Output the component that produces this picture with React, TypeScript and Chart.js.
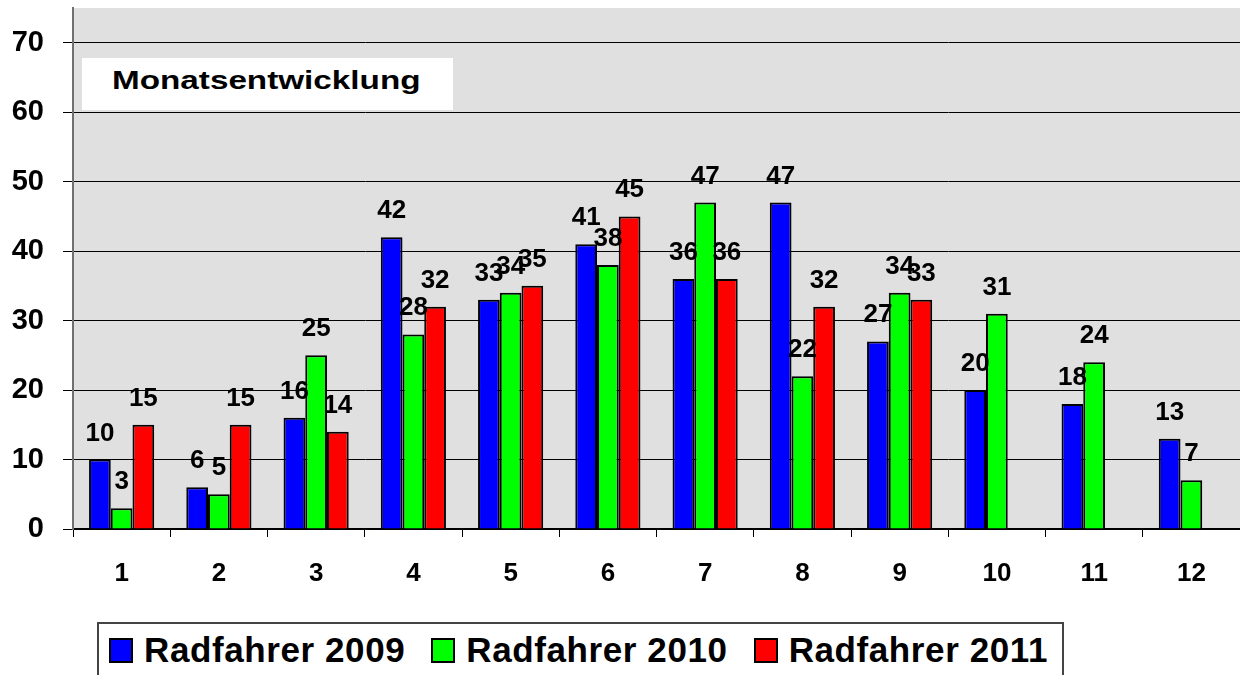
import React, { useEffect, useRef } from "react";
import { Chart, registerables } from "chart.js";

Chart.register(...registerables);

const months = ["1", "2", "3", "4", "5", "6", "7", "8", "9", "10", "11", "12"];
const radfahrer2009 = [10, 6, 16, 42, 33, 41, 36, 47, 27, 20, 18, 13];
const radfahrer2010 = [3, 5, 25, 28, 34, 38, 47, 22, 34, 31, 24, 7];
const radfahrer2011 = [15, 15, 14, 32, 35, 45, 36, 32, 33, null, null, null];
const seriesLabels = ["Radfahrer 2009", "Radfahrer 2010", "Radfahrer 2011"];
const seriesColors = ["#0000FF", "#00FF00", "#FF0000"];
const chartTitle = "Monatsentwicklung";
const yMax = 75;
const yStep = 10;
const yLastTick = 70;

const FONT = '"Liberation Sans", Arial, Helvetica, sans-serif';

const bgPlugin = {
  id: "plotBg",
  beforeDraw(chart: any) {
    const { ctx, chartArea } = chart;
    ctx.save();
    ctx.fillStyle = "#E0E0E0";
    ctx.fillRect(chartArea.left, chartArea.top, chartArea.right - chartArea.left, chartArea.bottom - chartArea.top);
    ctx.restore();
  },
};

const labelPlugin = {
  id: "valueLabels",
  afterDatasetsDraw(chart: any) {
    const ctx = chart.ctx;
    ctx.save();
    ctx.font = `bold 26px ${FONT}`;
    ctx.fillStyle = "#000";
    ctx.textAlign = "center";
    ctx.textBaseline = "alphabetic";
    chart.data.datasets.forEach((ds: any, i: number) => {
      const meta = chart.getDatasetMeta(i);
      meta.data.forEach((el: any, j: number) => {
        const v = ds.data[j];
        if (v === null || v === undefined) return;
        ctx.fillText(String(v), el.x, el.y - 19);
      });
    });
    ctx.restore();
  },
};

export default function App() {
  const canvasRef = useRef<HTMLCanvasElement | null>(null);

  useEffect(() => {
    if (!canvasRef.current) return;
    const seriesData = [radfahrer2009, radfahrer2010, radfahrer2011];
    const chart = new Chart(canvasRef.current, {
      type: "bar",
      data: {
        labels: months,
        datasets: seriesLabels.map((label, i) => ({
          label,
          data: seriesData[i] as any,
          backgroundColor: seriesColors[i],
          borderColor: "#000",
          borderWidth: 2,
          categoryPercentage: 0.67,
          barPercentage: 1,
        })),
      },
      options: {
        responsive: false,
        animation: false,
        devicePixelRatio: 1,
        layout: { padding: { top: 8, left: 0, right: 0, bottom: 0 } },
        plugins: {
          legend: { display: false },
          title: { display: false },
          tooltip: { enabled: false },
        },
        scales: {
          x: {
            offset: true,
            grid: {
              offset: true,
              drawOnChartArea: false,
              drawTicks: true,
              tickLength: 8,
              color: "#000",
              lineWidth: 1,
            },
            border: { display: true, color: "#000", width: 1.5 },
            ticks: {
              color: "#000",
              font: { family: FONT, size: 26, weight: "bold" },
              padding: 21,
              maxRotation: 0,
            },
            afterFit(scale: any) {
              scale.height = 146;
              scale.paddingLeft = 0;
              scale.paddingRight = 0;
            },
          },
          y: {
            min: 0,
            max: yMax,
            grid: {
              color: "#000",
              lineWidth: 1,
              tickLength: 10,
              drawTicks: true,
            },
            border: { display: true, color: "#707070", width: 2 },
            ticks: {
              stepSize: yStep,
              color: "#000",
              font: { family: FONT, size: 29, weight: "bold" },
              padding: 19,
            },
            afterBuildTicks(scale: any) {
              scale.ticks = scale.ticks.filter((t: any) => t.value <= yLastTick);
            },
            afterFit(scale: any) {
              scale.width = 73;
              scale.paddingTop = 0;
              scale.paddingBottom = 0;
            },
          },
        },
      },
      plugins: [bgPlugin, labelPlugin],
    });
    return () => chart.destroy();
  }, []);

  return (
    <div
      style={{
        position: "fixed",
        left: 0,
        top: 0,
        width: 1240,
        height: 675,
        overflow: "hidden",
        background: "#fff",
      }}
    >
      <canvas ref={canvasRef} width={1240} height={675} style={{ position: "absolute", left: 0, top: 0 }} />
      <div
        style={{
          position: "absolute",
          left: 82,
          top: 58,
          width: 371,
          height: 52,
          background: "#fff",
        }}
      >
        <span
          style={{
            position: "absolute",
            left: 30,
            top: 10,
            fontFamily: FONT,
            fontWeight: "bold",
            fontSize: 25,
            lineHeight: "25px",
            whiteSpace: "nowrap",
            color: "#000",
            transform: "scaleX(1.33)",
            transformOrigin: "left top",
          }}
        >
          {chartTitle}
        </span>
      </div>
      <div
        style={{
          position: "absolute",
          left: 97,
          top: 622,
          width: 967,
          height: 62,
          border: "2px solid #444",
          boxSizing: "border-box",
          background: "#fff",
        }}
      >
        <div
          style={{
            position: "absolute",
            left: 10,
            top: 13,
            height: 26,
            display: "flex",
            alignItems: "center",
            whiteSpace: "nowrap",
          }}
        >
          {seriesLabels.map((label, i) => (
            <React.Fragment key={label}>
              <span
                style={{
                  display: "inline-block",
                  width: 24,
                  height: 25,
                  boxSizing: "border-box",
                  border: "2px solid #000",
                  background: seriesColors[i],
                  marginRight: 11,
                }}
              />
              <span
                style={{
                  fontFamily: FONT,
                  fontWeight: "bold",
                  fontSize: 35,
                  lineHeight: "26px",
                  letterSpacing: 0.6,
                  color: "#000",
                  marginRight: i < seriesLabels.length - 1 ? 26 : 0,
                }}
              >
                {label}
              </span>
            </React.Fragment>
          ))}
        </div>
      </div>
    </div>
  );
}
